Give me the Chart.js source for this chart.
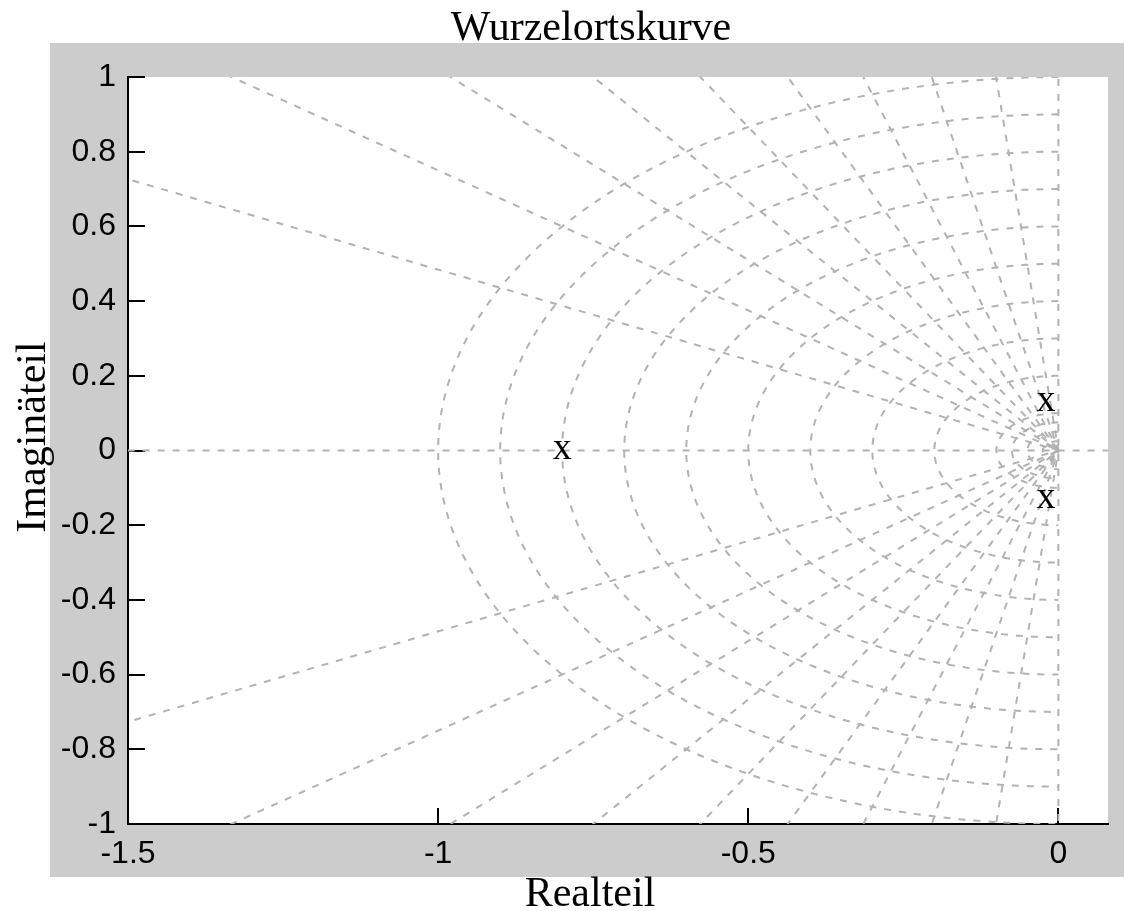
<!DOCTYPE html>
<html>
<head>
<meta charset="utf-8">
<title>Wurzelortskurve</title>
<script src="https://cdn.jsdelivr.net/npm/chart.js@4.4.1/dist/chart.umd.min.js"></script>
<style>
  html, body { margin: 0; padding: 0; background: #fff; }
  #wrap { width: 1124px; height: 911px; position: relative; }
</style>
</head>
<body>
<div id="wrap"><canvas id="rlocus"></canvas></div>
<script>
// axis ticks
const X_TICKS = [-1.5, -1, -0.5, 0];
const X_TICK_LABELS = ['-1.5', '-1', '-0.5', '0'];
const Y_TICKS = [-1, -0.8, -0.6, -0.4, -0.2, 0, 0.2, 0.4, 0.6, 0.8, 1];
const Y_TICK_LABELS = ['-1', '-0.8', '-0.6', '-0.4', '-0.2', '0', '0.2', '0.4', '0.6', '0.8', '1'];

// poles, drawn as "x"
const POLE_RE = [-0.8, -0.02, -0.02];
const POLE_IM = [0, 0.127, -0.133];

// sgrid: damping ratios (rays) and natural frequencies (half circles)
const ZETA = [0.1, 0.2, 0.3, 0.4, 0.5, 0.6, 0.7, 0.8, 0.9];
const WN = [0.01, 0.025, 0.05, 0.075, 0.1, 0.2, 0.3, 0.4, 0.5, 0.6, 0.7, 0.8, 0.9, 1.0];

const GRID_COLOR = '#b2b2b2';
const SERIF = "'Liberation Serif', 'Times New Roman', serif";
const SANS = "'Liberation Sans', Arial, sans-serif";

function gridLine(points) {
  return {
    data: points,
    showLine: true,
    borderColor: GRID_COLOR,
    borderWidth: 2,
    borderDash: [7, 8],
    pointRadius: 0,
    pointHoverRadius: 0,
    tension: 0
  };
}

// constant damping: ray out of the origin, upper and lower half
function zetaRay(z) {
  const r = 3, s = Math.sqrt(1 - z * z);
  return [{ x: -r * z, y: r * s }, { x: 0, y: 0 }, { x: -r * z, y: -r * s }];
}

// constant natural frequency: half circle in the left half plane
function wnArc(w) {
  const pts = [];
  for (let i = 0; i <= 120; i++) {
    const a = Math.PI / 2 + Math.PI * i / 120;
    pts.push({ x: w * Math.cos(a), y: w * Math.sin(a) });
  }
  return pts;
}

const datasets = [];
datasets.push(gridLine([{ x: -3, y: 0 }, { x: 1, y: 0 }]));
datasets.push(gridLine([{ x: 0, y: -3 }, { x: 0, y: 3 }]));
ZETA.forEach(z => datasets.push(gridLine(zetaRay(z))));
WN.forEach(w => datasets.push(gridLine(wnArc(w))));

datasets.push({
  label: 'poles',
  data: POLE_RE.map((re, i) => ({ x: re, y: POLE_IM[i] })),
  pointRadius: 0,
  showLine: false
});

const matlabFrame = {
  id: 'matlabFrame',
  beforeDraw(chart) {
    const { ctx, chartArea: a } = chart;
    ctx.save();
    ctx.fillStyle = '#ffffff';
    ctx.fillRect(0, 0, chart.width, chart.height);
    ctx.fillStyle = '#cccccc';
    ctx.fillRect(a.left - 78, a.top - 34, chart.width - (a.left - 78), (a.bottom + 53) - (a.top - 34));
    ctx.fillStyle = '#ffffff';
    ctx.fillRect(a.left, a.top, a.right - a.left, a.bottom - a.top);
    ctx.restore();
  },
  afterDatasetsDraw(chart) {
    const { ctx } = chart;
    const meta = chart.getDatasetMeta(chart.data.datasets.length - 1);
    ctx.save();
    ctx.fillStyle = '#000';
    ctx.font = '38px ' + SERIF;
    ctx.textAlign = 'center';
    ctx.textBaseline = 'alphabetic';
    meta.data.forEach(pt => ctx.fillText('x', pt.x, pt.y + 8));
    ctx.restore();
  },
  afterDraw(chart) {
    const { ctx } = chart;
    ctx.save();
    ctx.fillStyle = '#000';
    ctx.font = '42px ' + SERIF;
    ctx.textAlign = 'center';
    ctx.textBaseline = 'alphabetic';
    ctx.fillText('Wurzelortskurve', 591, 40);
    ctx.fillText('Realteil', 590, 906);
    ctx.translate(45, 437);
    ctx.rotate(-Math.PI / 2);
    ctx.fillText('Imaginäteil', 0, 0);
    ctx.restore();
  }
};

new Chart(document.getElementById('rlocus'), {
  type: 'scatter',
  data: { datasets },
  plugins: [matlabFrame],
  options: {
    responsive: true,
    maintainAspectRatio: false,
    animation: false,
    events: [],
    layout: { padding: { left: 0, right: 16, top: 77, bottom: 0 } },
    plugins: {
      legend: { display: false },
      tooltip: { enabled: false },
      title: { display: false }
    },
    scales: {
      x: {
        type: 'linear',
        min: -1.5,
        max: 0.08,
        afterFit: s => { s.height = 87; },
        afterBuildTicks: s => { s.ticks = X_TICKS.map(v => ({ value: v })); },
        ticks: {
          callback: (v, i) => X_TICK_LABELS[i],
          color: '#000',
          font: { family: SANS, size: 32, lineHeight: 1 },
          padding: 30,
          maxRotation: 0,
          autoSkip: false
        },
        grid: { drawOnChartArea: false, drawTicks: true, tickLength: -16, color: '#000', lineWidth: 2 },
        border: { display: true, color: '#000', width: 2 }
      },
      y: {
        type: 'linear',
        min: -1,
        max: 1,
        afterFit: s => { s.width = 128; },
        afterBuildTicks: s => { s.ticks = Y_TICKS.map(v => ({ value: v })); },
        ticks: {
          callback: (v, i) => Y_TICK_LABELS[i],
          color: '#000',
          font: { family: SANS, size: 32, lineHeight: 1 },
          padding: 29,
          autoSkip: false
        },
        grid: { drawOnChartArea: false, drawTicks: true, tickLength: -17, color: '#000', lineWidth: 2 },
        border: { display: true, color: '#000', width: 2 }
      }
    }
  }
});
</script>
</body>
</html>
